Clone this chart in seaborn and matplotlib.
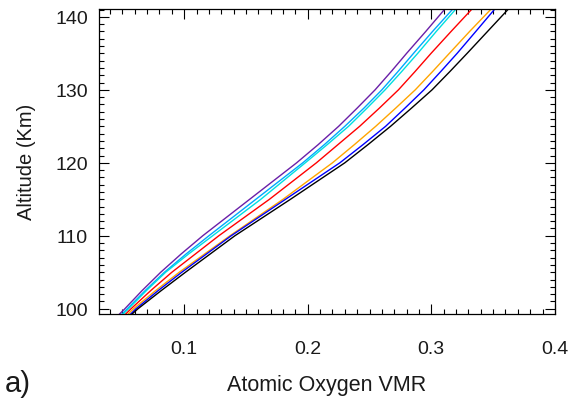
import numpy as np
import pandas as pd
import matplotlib
matplotlib.use("Agg")
import matplotlib.pyplot as plt
import seaborn as sns
from matplotlib.ticker import MultipleLocator

altitude = [99, 100, 102.5, 105, 107.5, 110, 112.5, 115, 117.5, 120,
            122.5, 125, 127.5, 130, 132.5, 135, 138, 141]

purple  = [0.046, 0.052, 0.066, 0.081, 0.0975, 0.115, 0.134, 0.153, 0.172, 0.191,
           0.2085, 0.225, 0.240, 0.2545, 0.2675, 0.280, 0.2955, 0.3106]
skyblue = [0.048, 0.054, 0.0685, 0.084, 0.1015, 0.120, 0.139, 0.158, 0.177, 0.196,
           0.2135, 0.230, 0.2455, 0.260, 0.273, 0.2856, 0.301, 0.317]
cyan    = [0.049, 0.055, 0.0695, 0.085, 0.1035, 0.123, 0.1425, 0.162, 0.180, 0.198,
           0.2158, 0.233, 0.248, 0.2626, 0.276, 0.289, 0.304, 0.3195]
red     = [0.051, 0.057, 0.073, 0.090, 0.109, 0.128, 0.1485, 0.169, 0.188, 0.207,
           0.2245, 0.242, 0.258, 0.2734, 0.2868, 0.2998, 0.316, 0.3325]
orange  = [0.053, 0.059, 0.077, 0.096, 0.1165, 0.137, 0.1585, 0.180, 0.200, 0.220,
           0.2378, 0.255, 0.2712, 0.287, 0.301, 0.3146, 0.331, 0.348]
blue    = [0.055, 0.061, 0.079, 0.098, 0.118, 0.138, 0.160, 0.182, 0.204, 0.226,
           0.2448, 0.263, 0.2787, 0.294, 0.3076, 0.3209, 0.336, 0.351]
black   = [0.056, 0.0626, 0.0815, 0.101, 0.121, 0.141, 0.1635, 0.186, 0.208, 0.230,
           0.2488, 0.267, 0.284, 0.3006, 0.315, 0.329, 0.3455, 0.362]

series_names = ["purple", "skyblue", "cyan", "red", "orange", "blue", "black"]
series_vals = [purple, skyblue, cyan, red, orange, blue, black]
colors = ["#6a1fa8", "#00a8ff", "#00e0e0", "#ff0000", "#ffa500", "#0000ff", "#000000"]

rows = []
for name, vals in zip(series_names, series_vals):
    for a, v in zip(altitude, vals):
        rows.append({"series": name, "alt": a, "vmr": v})
df = pd.DataFrame(rows)

sns.set_style("white")
plt.rcParams['font.family'] = ['Liberation Sans', 'DejaVu Sans']
plt.rcParams['text.color'] = '#1a1a1a'
plt.rcParams['xtick.labelcolor'] = '#1a1a1a'
plt.rcParams['ytick.labelcolor'] = '#1a1a1a'
plt.rcParams['axes.labelcolor'] = '#1a1a1a'

fig = plt.figure(figsize=(5.75, 4.1), dpi=100)
ax = fig.add_axes([0.172, 0.232, 0.793, 0.744])

sns.lineplot(data=df, x="vmr", y="alt", hue="series", palette=dict(zip(series_names, colors)),
             orient="y", sort=True, linewidth=1.0, legend=False, ax=ax)

ax.set_xlim(0.031, 0.4)
ax.set_ylim(99.3, 141.1)
ax.xaxis.set_minor_locator(MultipleLocator(0.01))
ax.yaxis.set_major_locator(MultipleLocator(10))
ax.yaxis.set_minor_locator(MultipleLocator(1))
ax.set_xticks([0.1, 0.2, 0.3, 0.4])
ax.set_xticklabels(["0.1", "0.2", "0.3", "0.4"])
ax.tick_params(which="both", direction="in", top=True, right=True, bottom=True, left=True,
               color="black", width=0.8)
ax.tick_params(which="major", length=7, labelsize=14)
ax.tick_params(axis="x", which="major", pad=19)
ax.tick_params(axis="y", which="major", pad=8)
ax.tick_params(which="minor", length=3.5)
for s in ax.spines.values():
    s.set_color("black")
    s.set_linewidth(0.9)

ax.set_xlabel("Atomic Oxygen VMR", fontsize=15.5, labelpad=12)
ax.set_ylabel("Altitude (Km)", fontsize=14.5, labelpad=14)
fig.text(0.008, 0.03, "a)", fontsize=21, ha="left", va="bottom")

fig.savefig("out.png", dpi=100)
